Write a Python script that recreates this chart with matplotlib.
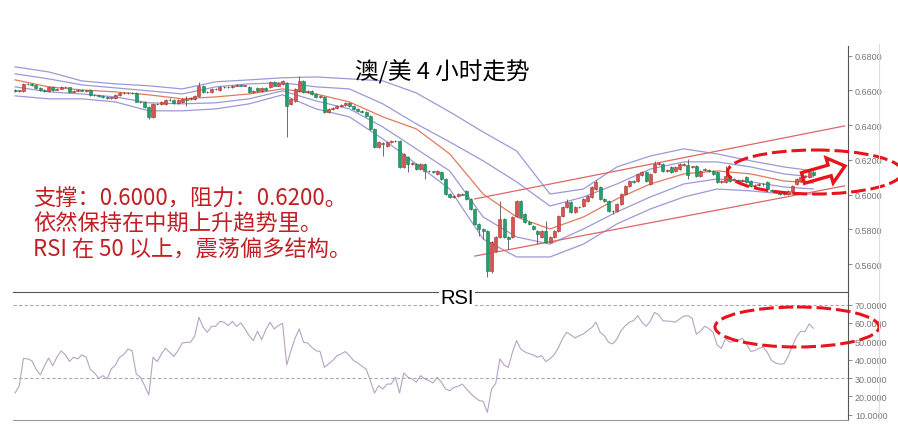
import numpy as np
import matplotlib.pyplot as plt
import matplotlib.transforms as mtransforms
from matplotlib.patches import Ellipse, FancyArrow
from matplotlib.lines import Line2D
from matplotlib.ticker import FormatStrFormatter

plt.rcParams['font.family'] = ['Noto Sans CJK SC', 'DejaVu Sans']

# 4H AUD/USD candles, prices in units of 0.0001
opens = [
    6602, 6596, 6597, 6637, 6634, 6631, 6614, 6602, 6597, 6620,
    6602, 6608, 6620, 6617, 6591, 6597, 6602, 6597, 6602, 6574,
    6571, 6568, 6562, 6556, 6556, 6574, 6585, 6583, 6585, 6585,
    6533, 6533, 6505, 6447, 6522, 6522, 6522, 6545, 6545, 6528,
    6533, 6548, 6550, 6551, 6568, 6626, 6591, 6591, 6608, 6602,
    6620, 6617, 6620, 6626, 6631, 6626, 6620, 6591, 6614, 6597,
    6614, 6620, 6649, 6626, 6637, 6643, 6522, 6539, 6597, 6654,
    6591, 6597, 6579, 6562, 6562, 6476, 6493, 6499, 6510, 6516,
    6528, 6510, 6493, 6482, 6476, 6453, 6378, 6274, 6297, 6280,
    6303, 6309, 6309, 6159, 6217, 6176, 6176, 6147, 6176, 6136,
    6133, 6119, 6130, 6090, 6003, 5986, 5992, 6003, 6021, 5975,
    5917, 5831, 5802, 5790, 5560, 5675, 5756, 5859, 5756, 5756,
    5877, 5963, 5888, 5842, 5819, 5790, 5756, 5790, 5727, 5756,
    5790, 5877, 5929, 5957, 5900, 5929, 5934, 5963, 5986, 6032,
    6044, 5975, 5963, 5906, 5906, 5946, 6003, 6050, 6078, 6078,
    6113, 6130, 6061, 6130, 6176, 6176, 6136, 6159, 6136, 6147,
    6171, 6171, 6159, 6165, 6107, 6142, 6142, 6136, 6130, 6073,
    6073, 6107, 6084, 6084, 6078, 6101, 6078, 6050, 6055, 6061,
    6073, 6027, 6021, 6009, 6003, 6003, 6015, 6061, 6078, 6101,
    6101, 6130,
]
closes = [
    6597, 6599, 6637, 6634, 6631, 6614, 6602, 6597, 6620, 6602,
    6608, 6620, 6617, 6591, 6597, 6602, 6597, 6599, 6574, 6571,
    6568, 6562, 6556, 6558, 6574, 6585, 6583, 6585, 6582, 6533,
    6530, 6505, 6447, 6522, 6519, 6533, 6545, 6542, 6528, 6545,
    6551, 6545, 6556, 6568, 6626, 6591, 6589, 6608, 6605, 6620,
    6617, 6620, 6626, 6631, 6626, 6628, 6591, 6597, 6597, 6614,
    6602, 6649, 6626, 6643, 6654, 6510, 6551, 6608, 6654, 6591,
    6594, 6579, 6562, 6568, 6476, 6493, 6499, 6510, 6516, 6528,
    6510, 6493, 6482, 6476, 6453, 6378, 6274, 6303, 6291, 6303,
    6309, 6306, 6159, 6234, 6176, 6180, 6147, 6176, 6136, 6133,
    6130, 6136, 6090, 6003, 5986, 5992, 6003, 6000, 5975, 5917,
    5831, 5802, 5790, 5560, 5727, 5756, 5859, 5756, 5744, 5871,
    5963, 5871, 5842, 5831, 5802, 5773, 5790, 5727, 5756, 5790,
    5877, 5929, 5957, 5900, 5929, 5926, 5975, 5992, 6044, 6073,
    5975, 5963, 5906, 5903, 5946, 6003, 6050, 6078, 6075, 6119,
    6130, 6078, 6119, 6176, 6179, 6136, 6139, 6130, 6159, 6176,
    6174, 6113, 6162, 6107, 6136, 6147, 6136, 6119, 6073, 6078,
    6107, 6078, 6090, 6078, 6081, 6073, 6050, 6052, 6061, 6058,
    6032, 6021, 6015, 6003, 6006, 6021, 6050, 6090, 6101, 6104,
    6130, 6113,
]
highs = [
    6608, 6603, 6643, 6640, 6640, 6634, 6617, 6605, 6625, 6624,
    6612, 6624, 6624, 6620, 6600, 6606, 6605, 6603, 6606, 6578,
    6575, 6571, 6565, 6562, 6578, 6589, 6589, 6590, 6589, 6589,
    6537, 6537, 6508, 6528, 6528, 6537, 6550, 6556, 6549, 6549,
    6555, 6568, 6560, 6572, 6649, 6630, 6595, 6612, 6612, 6624,
    6624, 6626, 6630, 6635, 6635, 6633, 6624, 6601, 6618, 6618,
    6618, 6653, 6653, 6647, 6660, 6649, 6555, 6612, 6683, 6660,
    6599, 6600, 6582, 6572, 6566, 6497, 6503, 6514, 6520, 6532,
    6532, 6514, 6497, 6486, 6480, 6457, 6382, 6309, 6303, 6309,
    6314, 6314, 6314, 6240, 6222, 6186, 6180, 6180, 6180, 6140,
    6137, 6140, 6134, 6094, 6007, 5998, 6009, 6009, 6025, 5979,
    5921, 5836, 5807, 5796, 5733, 5761, 5963, 5865, 5761, 5877,
    5969, 5969, 5894, 5848, 5825, 5796, 5796, 5848, 5761, 5796,
    5882, 5934, 5975, 5963, 5934, 5934, 5980, 5998, 6050, 6084,
    6050, 5980, 5969, 5911, 5952, 6009, 6055, 6084, 6084, 6124,
    6136, 6136, 6124, 6194, 6186, 6182, 6145, 6165, 6165, 6182,
    6180, 6205, 6167, 6171, 6142, 6153, 6147, 6142, 6136, 6084,
    6165, 6113, 6096, 6090, 6087, 6107, 6084, 6058, 6067, 6067,
    6078, 6032, 6027, 6015, 6012, 6027, 6055, 6096, 6107, 6110,
    6136, 6136,
]
lows = [
    6591, 6591, 6591, 6629, 6626, 6610, 6598, 6593, 6593, 6598,
    6599, 6605, 6612, 6587, 6588, 6594, 6594, 6593, 6570, 6566,
    6563, 6558, 6552, 6552, 6552, 6570, 6579, 6580, 6578, 6530,
    6526, 6500, 6435, 6441, 6514, 6518, 6518, 6538, 6524, 6524,
    6529, 6510, 6546, 6547, 6564, 6587, 6585, 6587, 6600, 6598,
    6613, 6613, 6616, 6622, 6622, 6622, 6587, 6587, 6593, 6593,
    6598, 6616, 6622, 6622, 6633, 6332, 6516, 6535, 6593, 6587,
    6585, 6575, 6558, 6558, 6472, 6472, 6489, 6495, 6506, 6512,
    6506, 6489, 6478, 6470, 6449, 6372, 6268, 6268, 6222, 6274,
    6297, 6300, 6153, 6153, 6130, 6170, 6142, 6142, 6090, 6127,
    6124, 6113, 6086, 5998, 5980, 5980, 5988, 5995, 5970, 5911,
    5825, 5761, 5744, 5525, 5548, 5669, 5750, 5750, 5687, 5750,
    5871, 5865, 5836, 5825, 5796, 5715, 5750, 5721, 5721, 5750,
    5784, 5871, 5923, 5894, 5894, 5920, 5929, 5957, 5980, 6027,
    5969, 5957, 5900, 5888, 5900, 5940, 5998, 6044, 6069, 6073,
    6107, 6073, 6055, 6124, 6171, 6130, 6130, 6124, 6130, 6142,
    6165, 6090, 6153, 6101, 6101, 6136, 6130, 6113, 6067, 6067,
    6067, 6073, 6078, 6073, 6073, 6067, 6044, 6044, 6050, 6052,
    6027, 6015, 6009, 5998, 5998, 5998, 6009, 6055, 6073, 6096,
    6096, 6107,
]

# band lines at every 8th candle (units of 0.0001)
band_idx = [0, 8, 16, 24, 32, 40, 48, 56, 64, 72, 80, 88, 96, 104, 112,
            120, 128, 136, 144, 152, 160, 168, 176, 184, 191]
band_outer_up = [6735, 6706, 6654, 6637, 6626, 6608, 6649, 6660, 6672, 6677,
                 6666, 6654, 6585, 6476, 6360, 6251, 6003, 6032, 6159, 6222,
                 6263, 6234, 6194, 6159, 6136]
band_inner_up = [6695, 6666, 6631, 6614, 6597, 6579, 6620, 6637, 6643, 6620,
                 6608, 6522, 6407, 6303, 6194, 6073, 5934, 5986, 6061, 6147,
                 6188, 6188, 6159, 6119, 6101]
band_mid = [6660, 6620, 6602, 6591, 6574, 6551, 6562, 6579, 6608, 6579,
            6533, 6447, 6378, 6234, 6003, 5871, 5802, 5871, 5975, 6061,
            6119, 6136, 6119, 6078, 6067]
band_inner_dn = [6620, 6591, 6579, 6562, 6528, 6522, 6528, 6551, 6597, 6539,
                 6493, 6389, 6263, 6136, 5871, 5756, 5715, 5802, 5900, 5986,
                 6061, 6090, 6073, 6044, 6032]
band_outer_dn = [6568, 6551, 6551, 6533, 6482, 6482, 6493, 6522, 6574, 6493,
                 6447, 6320, 6176, 6032, 5744, 5641, 5641, 5715, 5831, 5917,
                 5986, 6032, 6021, 6003, 6003]

# rising channel drawn on the chart
chan_idx = [110, 198.5]
chan_up = [5975, 6395]
chan_dn = [5646, 6050]

rsi = [
    21.8, 25.8, 40.7, 40.4, 39.5, 34.9, 31.7, 36.4, 40.9, 36.7,
    41.3, 44.7, 42.8, 39.1, 41.3, 40.4, 42.6, 41.3, 34.6, 32.8,
    29.8, 31.3, 29.5, 34.9, 37.1, 41.3, 42.8, 45.8, 44.9, 32.2,
    30.4, 25.8, 20.8, 41.3, 38.9, 43.1, 46.2, 44.0, 41.8, 44.9,
    49.1, 49.5, 49.5, 53.1, 63.1, 57.7, 54.9, 58.2, 58.2, 60.9,
    60.4, 58.6, 60.9, 58.2, 60.0, 56.8, 53.1, 50.4, 55.5, 50.9,
    56.4, 60.4, 56.8, 58.6, 59.8, 37.1, 44.9, 51.7, 56.8, 49.5,
    49.1, 46.7, 44.9, 44.4, 35.8, 37.7, 39.5, 42.2, 43.1, 44.4,
    42.2, 39.5, 38.2, 36.4, 34.9, 28.6, 21.8, 25.8, 24.0, 26.7,
    26.7, 30.4, 21.8, 32.8, 30.4, 29.5, 27.7, 31.3, 29.5, 28.6,
    27.3, 30.4, 27.7, 24.0, 23.1, 24.9, 25.5, 26.7, 24.0, 21.5,
    19.5, 17.7, 17.3, 11.3, 24.0, 27.0, 40.4, 37.1, 35.8, 44.0,
    50.4, 45.8, 44.2, 43.3, 42.6, 41.3, 42.2, 38.9, 40.5, 42.8,
    46.5, 51.5, 54.9, 53.5, 51.8, 53.1, 54.0, 56.0, 57.5, 60.4,
    54.9, 53.1, 49.5, 48.6, 51.3, 55.8, 58.5, 60.4, 61.3, 64.0,
    60.4, 58.2, 61.0, 65.8, 64.4, 61.3, 61.0, 60.9, 60.4, 62.2,
    63.7, 64.0, 62.6, 54.0, 55.5, 58.2, 57.0, 55.0, 48.0, 46.2,
    51.5, 49.5, 49.9, 50.4, 51.7, 48.6, 44.5, 44.9, 46.2, 46.8,
    44.0, 39.5, 38.2, 37.5, 37.8, 42.0, 47.5, 52.5, 55.5, 55.3,
    59.5, 57.1,
]

price_ticks = [0.56, 0.58, 0.60, 0.62, 0.64, 0.66, 0.68]
rsi_ticks = [10, 20, 30, 40, 50, 60, 70]
rsi_levels = [70, 30]

title = "澳/美 4 小时走势"
notes = ["支撑：0.6000，阻力：0.6200。",
         "依然保持在中期上升趋势里。",
         "RSI 在 50 以上，震荡偏多结构。"]

W, H = 898, 431
UP, DOWN = "#d9534f", "#22a06b"
UP_EDGE, DOWN_EDGE = "#a83232", "#17794f"
BAND, MID = "#9a9ad8", "#e07a5f"
ANNO = "#e8141b"
GREY = "#777777"


def fx(px):
    return px / W


def fy(px):
    return 1 - px / H


def main():
    o = np.array(opens) / 1e4
    c = np.array(closes) / 1e4
    hi = np.array(highs) / 1e4
    lo = np.array(lows) / 1e4
    idx = np.arange(len(c))

    fig = plt.figure(figsize=(W / 100, H / 100), dpi=100)
    ax = fig.add_axes([fx(13), fy(292), fx(835), 245 / H])
    ax2 = fig.add_axes([fx(13), fy(421), fx(835), 128 / H])

    # candles
    up = c >= o
    body_lo = np.minimum(o, c)
    body_h = np.maximum(np.abs(c - o), 0.0004)
    ax.vlines(idx, lo, hi, color="#555555", linewidth=0.6, zorder=2)
    ax.bar(idx[up], body_h[up], bottom=body_lo[up], width=0.72,
           color=UP, edgecolor=UP_EDGE, linewidth=0.4, zorder=3)
    ax.bar(idx[~up], body_h[~up], bottom=body_lo[~up], width=0.72,
           color=DOWN, edgecolor=DOWN_EDGE, linewidth=0.4, zorder=3)

    # bands
    for vals, col in ((band_outer_up, BAND), (band_inner_up, BAND),
                      (band_mid, MID), (band_inner_dn, BAND),
                      (band_outer_dn, BAND)):
        ax.plot(band_idx, np.array(vals) / 1e4, color=col, linewidth=0.9, zorder=1)

    # channel
    ax.plot(chan_idx, np.array(chan_up) / 1e4, color="#e06666", linewidth=0.9, zorder=1)
    ax.plot(chan_idx, np.array(chan_dn) / 1e4, color="#e06666", linewidth=0.9, zorder=1)

    ax.set_xlim(-0.5, 199.3)
    ax.set_ylim(0.5445, 0.6855)
    ax.set_xticks([])
    ax.yaxis.tick_right()
    ax.set_yticks(price_ticks)
    ax.yaxis.set_major_formatter(FormatStrFormatter("%.4f"))
    for side in ("left", "top", "bottom"):
        ax.spines[side].set_visible(False)
    ax.spines["right"].set_color("#555555")
    ax.spines["right"].set_linewidth(0.8)
    ax.tick_params(axis="y", length=3, width=0.6, color="#777777",
                   labelsize=6.5, labelcolor=GREY, pad=2)
    for t in ax.get_yticklabels():
        t.set_family(["Liberation Sans", "DejaVu Sans"])
    ax.patch.set_alpha(0)

    # RSI panel
    ax2.plot(idx, rsi, color="#b8a2c4", linewidth=0.8)
    for lvl in rsi_levels:
        ax2.axhline(lvl, color="#aaaaaa", linewidth=0.8, linestyle=(0, (3, 2)))
    ax2.set_xlim(-0.5, 199.3)
    ax2.set_ylim(7.1, 76.9)
    ax2.set_xticks([])
    ax2.yaxis.tick_right()
    ax2.set_yticks(rsi_ticks)
    ax2.yaxis.set_major_formatter(FormatStrFormatter("%.4f"))
    ax2.spines["left"].set_visible(False)
    ax2.spines["top"].set_color("#555555")
    ax2.spines["right"].set_color("#555555")
    ax2.spines["bottom"].set_color("#999999")
    for s in ("top", "right", "bottom"):
        ax2.spines[s].set_linewidth(0.8)
    ax2.tick_params(axis="y", length=3, width=0.6, color="#777777",
                    labelsize=6.5, labelcolor=GREY, pad=2)
    for t in ax2.get_yticklabels():
        t.set_family(["Liberation Sans", "DejaVu Sans"])
    ax2.patch.set_alpha(0)

    fig.text(fx(457), fy(298), "RSI", ha="center", va="center", fontsize=14.5,
             family=["Liberation Sans", "DejaVu Sans"], color="black",
             bbox=dict(facecolor="white", edgecolor="none", pad=1))

    fig.add_artist(Line2D([fx(879), fx(879)], [fy(45), fy(421)],
                          color="#dddddd", linewidth=0.8))

    fig.text(fx(442), fy(72), title, ha="center", va="center", fontsize=17,
             color="black")
    for k, line in enumerate(notes):
        fig.text(fx(33), fy(199 + 25.5 * k), line, ha="left", va="center",
                 fontsize=16, color="#c41e24")

    # hand-drawn red marks, in pixel space
    px = mtransforms.Affine2D().scale(1 / W, -1 / H).translate(0, 1) + fig.transFigure
    dash = (0, (4.8, 1.6))
    fig.add_artist(Ellipse((815, 173), 175, 44, transform=px, fill=False,
                           edgecolor=ANNO, linewidth=2.2, linestyle=dash, clip_on=False))
    fig.add_artist(Ellipse((797, 328), 164, 40, transform=px, fill=False,
                           edgecolor=ANNO, linewidth=2.2, linestyle=dash, clip_on=False))
    fig.add_artist(FancyArrow(803, 179, 42, -12, width=11, head_width=26,
                              head_length=16, length_includes_head=True,
                              transform=px, fill=False, edgecolor=ANNO,
                              linewidth=2.4, clip_on=False))

    fig.savefig("out.png", dpi=100, facecolor="white")
    plt.close(fig)


if __name__ == "__main__":
    main()
